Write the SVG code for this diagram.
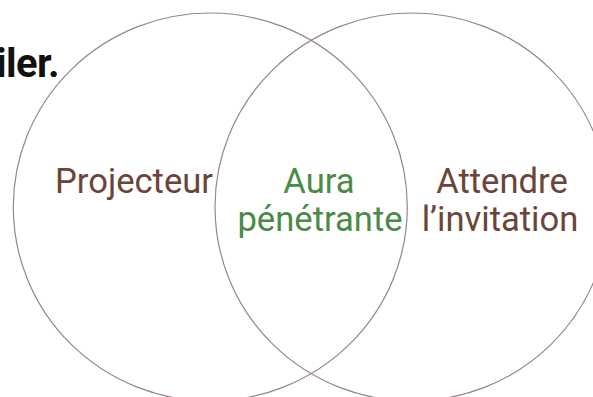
<svg xmlns="http://www.w3.org/2000/svg" width="593" height="397" viewBox="0 0 593 397">
<style>
.set{fill:none;stroke:#978683;stroke-width:1.2}
.lbl{font-family:Roboto,"Liberation Sans",sans-serif;font-size:34.6px;text-anchor:middle}
.brown{fill:#6b4538}
.green{fill:#4b8a47}
.title{font-family:Roboto,"Liberation Sans",sans-serif;font-size:40px;font-weight:bold;fill:#111;text-anchor:end;letter-spacing:-0.6px}
</style>
<rect width="593" height="397" fill="#fff"/>
<text class="title" x="59" y="77">iler.</text>
<g id="connectors"></g>
<g id="set-projecteur">
<ellipse class="set" cx="210.3" cy="207" rx="197" ry="194"/>
<text class="lbl brown" x="134" y="192.5">Projecteur</text>
</g>
<g id="set-attendre">
<ellipse class="set" cx="412" cy="207" rx="197" ry="194"/>
<text class="lbl brown" x="502"  y="192.5">Attendre</text>
<text class="lbl brown" x="500" y="231">l’invitation</text>
</g>
<g id="intersection">
<text class="lbl green" x="319" y="192.5">Aura</text>
<text class="lbl green" x="320" y="231">pénétrante</text>
</g>
</svg>
